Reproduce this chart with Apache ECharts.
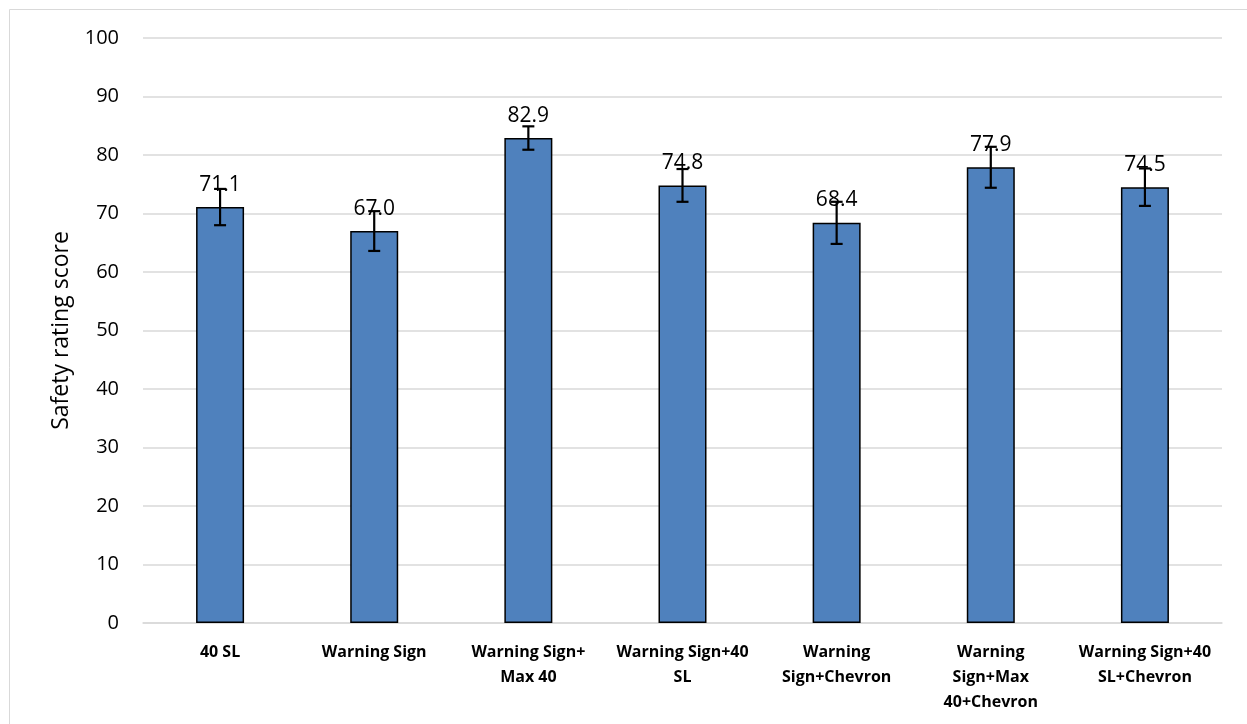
<!DOCTYPE html>
<html>
<head>
<meta charset="utf-8">
<script src="https://cdn.jsdelivr.net/npm/echarts@6/dist/echarts.min.js"></script>
<style>
html,body{margin:0;padding:0;background:#fff;}
#chart{width:1247px;height:724px;}
</style>
</head>
<body>
<div id="chart"></div>
<script>
const categories = ["40 SL", "Warning Sign", "Warning Sign+\nMax 40", "Warning Sign+40\nSL", "Warning\nSign+Chevron", "Warning\nSign+Max\n40+Chevron", "Warning Sign+40\nSL+Chevron"];
const means = [71.1, 67.0, 82.9, 74.8, 68.4, 77.9, 74.5];
const errors = [3.1, 3.4, 2.0, 2.8, 3.6, 3.5, 3.2];
const yTicks = [0, 10, 20, 30, 40, 50, 60, 70, 80, 90, 100];

const FONT = "'Open Sans', 'Liberation Sans', sans-serif";
const chart = echarts.init(document.getElementById('chart'), null, {renderer: 'canvas'});

const errData = means.map((m, i) => [i, m - errors[i], m + errors[i]]);

chart.setOption({
  backgroundColor: '#fff',
  animation: false,
  graphic: [{
    type: 'rect',
    shape: {x: 9.5, y: 9.5, width: 1240, height: 720},
    style: {fill: 'none', stroke: '#d9d9d9', lineWidth: 1},
    silent: true, z: -10
  }],
  grid: {left: 143, right: 25, top: 38, bottom: 101, containLabel: false},
  xAxis: {
    type: 'category',
    data: categories,
    axisLine: {show: true, lineStyle: {color: '#d9d9d9', width: 1.5}},
    axisTick: {show: false},
    axisLabel: {
      interval: 0, margin: 17, color: '#000', fontFamily: FONT,
      fontSize: 16, fontWeight: 'bold', lineHeight: 25, align: 'center'
    }
  },
  yAxis: {
    type: 'value', min: 0, max: 100, interval: 10,
    name: 'Safety rating score', nameLocation: 'middle', nameGap: 70,
    nameTextStyle: {color: '#000', fontFamily: FONT, fontSize: 23},
    axisLine: {show: false}, axisTick: {show: false},
    axisLabel: {color: '#000', fontFamily: FONT, fontSize: 20, margin: 24,
      formatter: v => yTicks.includes(v) ? String(v) : ''},
    splitLine: {lineStyle: {color: '#d9d9d9', width: 1.5}}
  },
  series: [{
    type: 'bar',
    data: means,
    barWidth: 48,
    itemStyle: {color: '#4f81bd', borderColor: '#000', borderWidth: 1.5},
    label: {
      show: true, position: 'top', distance: 12,
      color: '#000', fontFamily: FONT, fontSize: 21,
      formatter: p => p.value.toFixed(1)
    },
    z: 2
  }, {
    type: 'custom',
    data: errData,
    z: 5,
    renderItem: function (params, api) {
      const x = api.value(0);
      const lo = api.coord([x, api.value(1)]);
      const hi = api.coord([x, api.value(2)]);
      const cap = 6;
      const st = {stroke: '#000', lineWidth: 2.2};
      return {
        type: 'group',
        children: [
          {type: 'line', shape: {x1: lo[0], y1: lo[1], x2: hi[0], y2: hi[1]}, style: st},
          {type: 'line', shape: {x1: lo[0] - cap, y1: lo[1], x2: lo[0] + cap, y2: lo[1]}, style: st},
          {type: 'line', shape: {x1: hi[0] - cap, y1: hi[1], x2: hi[0] + cap, y2: hi[1]}, style: st}
        ]
      };
    }
  }]
});
</script>
</body>
</html>
